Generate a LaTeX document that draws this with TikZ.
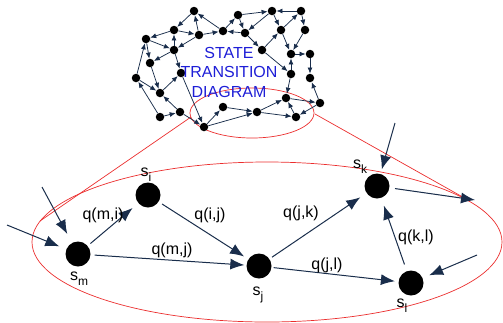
\documentclass[tikz,border=0pt]{standalone}
\usepackage{fontspec}
\setmainfont{Liberation Sans}
\usetikzlibrary{arrows.meta}
\definecolor{navy}{RGB}{25,45,75}
\definecolor{redl}{RGB}{235,45,45}
\definecolor{txtblue}{RGB}{30,30,215}
\newcommand{\mysub}[1]{\raisebox{-5pt}{\fontsize{12}{12}\selectfont #1}}
\begin{document}
\begin{tikzpicture}[x=1pt,y=-1pt,
 sn/.style={circle,fill=black,inner sep=0,minimum size=8.5pt},
 bn/.style={circle,fill=black,inner sep=0,minimum size=25pt},
 se/.style={draw=navy,line width=0.75pt,-{Latex[length=6pt,width=5pt]}},
 be/.style={draw=navy,line width=1pt,-{Latex[length=14pt,width=11pt]}},
 lbl/.style={font=\fontsize{16}{16}\selectfont,inner sep=0},
 redline/.style={draw=redl,line width=0.7pt}]
\useasboundingbox (0,0) rectangle (503,322);
% red focus
\draw[redline] (267,242) ellipse [x radius=235, y radius=80];
\draw[redline] (252,113) ellipse [x radius=62, y radius=25];
\coordinate (rl1) at (191,117);
\coordinate (rl2) at (40,221);
\coordinate (rr1) at (315,114);
\coordinate (rr2) at (468,200);
\draw[redline] (rl1) -- (rl2);
\draw[redline] (rr1) -- (rr2);
% top graph nodes
\foreach \n/\x/\y in {1/194/11,2/238/15,3/272/11,4/301/11,5/174/30,6/199/35,7/223/31,8/245/33,
 9/281/30,10/305/30,11/146/39,12/174/50,13/262/50,14/291/54,15/310/54,16/150/63,17/181/73,
 18/291/74,19/310/78,20/136/78,22/160/93,23/286/98,24/320/103,25/160/117,26/180/112,
 27/223/107,28/257/112,29/296/117,30/204/127}
 \node[sn] (n\n) at (\x,\y) {};
\foreach \a/\b in {1/5,6/1,7/1,5/11,5/6,6/7,12/5,6/12,11/12,11/16,12/16,12/17,16/22,20/22,
 22/17,20/11,25/20,25/26,26/22,17/30,26/30,30/27,30/28,7/2,8/7,2/8,2/3,4/3,3/8,3/9,9/4,4/10,
 8/13,13/9,9/14,10/14,14/15,13/18,18/14,15/19,18/23,24/19,23/24,27/28,28/23,28/29,24/29,29/23}
 \draw[se] (n\a) -- (n\b);
\node[text=txtblue,align=center,font=\fontsize{16}{19.5}\selectfont,inner sep=0] (title) at (229,72) {STATE\\TRANSITION\\DIAGRAM};
% bottom graph
\node[bn] (sm) at (78,254) {};
\node[bn] (si) at (148,195) {};
\node[bn] (sj) at (259,266) {};
\node[bn] (sk) at (377,186) {};
\node[bn] (sl) at (411,283) {};
\node[lbl] (lsm) at (79,279) {s\mysub{m}};
\node[lbl] (lsi) at (146,175) {s\mysub{i}};
\node[lbl] (lsj) at (258,295) {s\mysub{j}};
\node[lbl] (lsk) at (360,167) {s\mysub{k}};
\node[lbl] (lsl) at (402,306) {s\mysub{l}};
\draw[be,shorten <=3.5pt,shorten >=7.5pt] (sm) -- (si);
\draw[be,shorten <=4pt,shorten >=5pt] (si) -- (sj);
\draw[be,shorten <=4pt,shorten >=2pt] (sm) -- (sj);
\draw[be,shorten <=3pt,shorten >=7.5pt] (sj) -- (sk);
\draw[be,shorten <=2pt,shorten >=3.5pt] (sj) -- (sl);
\draw[be,shorten <=7pt,shorten >=8pt] (sl) -- (sk);
\coordinate (in1) at (42,187);
\coordinate (in2) at (7,225);
\coordinate (in3) at (395,123);
\coordinate (in4) at (477,255);
\coordinate (out1) at (475,200);
\draw[be,shorten >=10pt] (in1) -- (sm);
\draw[be,shorten >=7.5pt] (in2) -- (sm);
\draw[be,shorten >=4.5pt] (in3) -- (sk);
\draw[be,shorten >=7pt] (in4) -- (sl);
\draw[be,shorten <=5.5pt] (sk) -- (out1);
\node[lbl] (qmi) at (103,215) {q(m,i)};
\node[lbl] (qij) at (210,215) {q(i,j)};
\node[lbl] (qmj) at (172,250) {q(m,j)};
\node[lbl] (qjk) at (301,213) {q(j,k)};
\node[lbl] (qjl) at (327,265) {q(j,l)};
\node[lbl] (qkl) at (416,237) {q(k,l)};
\end{tikzpicture}
\end{document}
